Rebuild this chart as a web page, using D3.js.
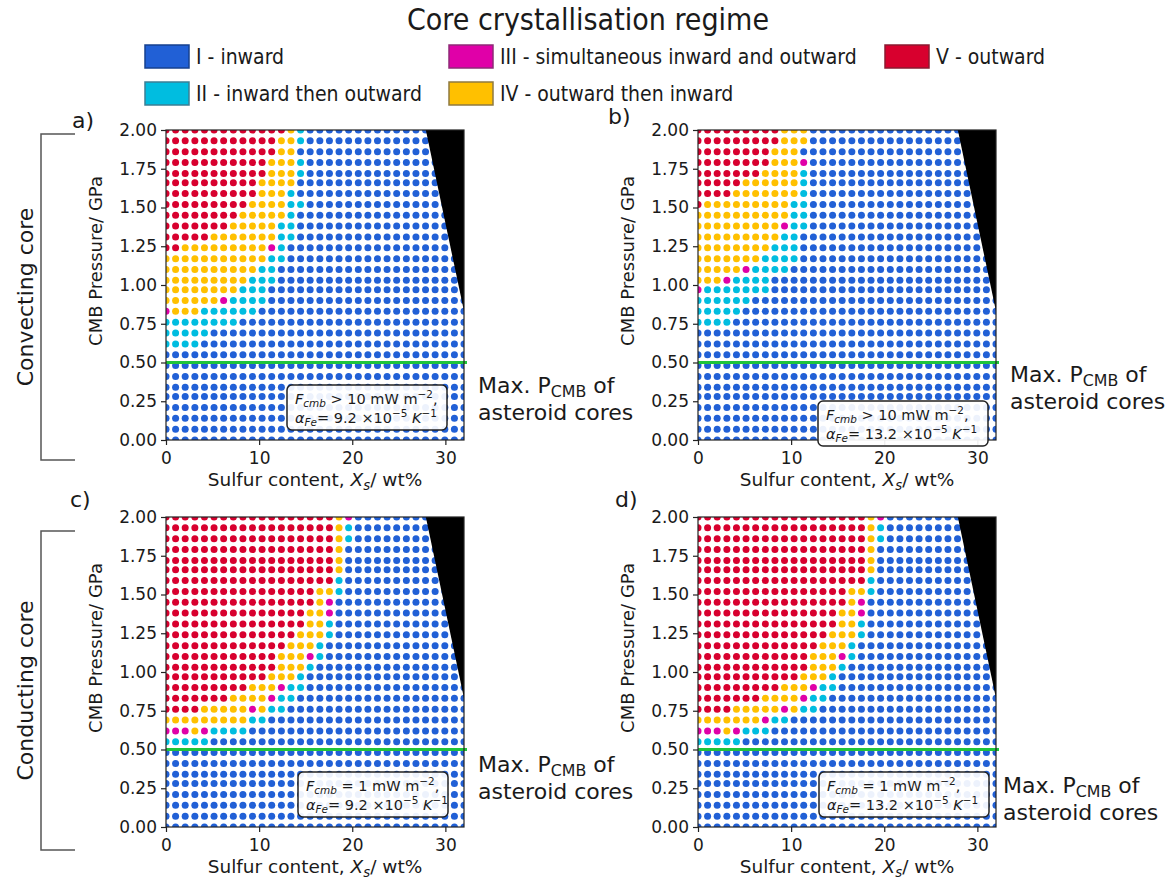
<!DOCTYPE html>
<head>
<meta charset="UTF-8">
<title>Core crystallisation regime</title>
<style>
body { margin: 0; background: #fff; }
svg text { font-family: "DejaVu Sans", sans-serif; fill: #1a1a1a; }
.tick text { font-size: 17px; fill: #1a1a1a; }
.cond { font-family: "DejaVu Sans Condensed", "DejaVu Sans", sans-serif; font-stretch: condensed; }
</style>
</head>
<body>
<script src="https://cdn.jsdelivr.net/npm/d3@7"></script>
<script>

// sulfur content grid, wt% (32 columns)
var sulfur = [0, 1.03, 2.06, 3.10, 4.13, 5.16, 6.19, 7.23, 8.26, 9.29, 10.32, 11.35,
  12.39, 13.42, 14.45, 15.48, 16.52, 17.55, 18.58, 19.61, 20.65, 21.68, 22.71, 23.74,
  24.77, 25.81, 26.84, 27.87, 28.90, 29.94, 30.97, 32];

// CMB pressure grid, GPa (30 rows, top row first)
var pressure = [2.00, 1.93, 1.86, 1.79, 1.72, 1.66, 1.59, 1.52, 1.45, 1.38, 1.31, 1.24,
  1.17, 1.10, 1.03, 0.97, 0.90, 0.83, 0.76, 0.69, 0.62, 0.55, 0.48, 0.41, 0.34, 0.28,
  0.21, 0.14, 0.07, 0.00];

// regime of each dot, one string per pressure row (top first), one letter per column.
// R = V outward, Y = IV outward then inward, M = III simultaneous, C = II inward then outward
// anything not listed is B = I inward
var panelA = [
  "RRRRRRRRRRRRRYC",
  "RRRRRRRRRRRRYYC",
  "RRRRRRRRRRRRYY",
  "RRRRRRRRRRRYYYC",
  "RRRRRRRRRRRYYYC",
  "RRRRRRRRRRYYYY",
  "RRRRRRRRRRYYYC",
  "RRRRRRRRRYYYYCC",
  "RRRRRRRRYYYYYC",
  "RRRRRRRYYYYYCC",
  "RRRRRYYYYYYYCC",
  "RRYYYYYYYYYMC",
  "YYYYYYYYYYYCC",
  "YYYYYYYYYYCC",
  "YYYYYYYYYCCC",
  "YYYYYYYYCCC",
  "YYYYYYMCCCC",
  "MYYYCCCCCC",
  "CCCCCCCC",
  "CCCCC",
  "CCCC"
];
var panelB = [
  "RRRRRRRRRYYY",
  "RRRRRRRRRYYY",
  "RRRRRRRRYYY",
  "RRRRRRRRYYYM",
  "RRRRRRRYYYYC",
  "RRRRRYYYYYYC",
  "RRRRYYYYYYYC",
  "RYYYYYYYYYCC",
  "YYYYYYYYYYCC",
  "YYYYYYYYYMCC",
  "YYYYYYYYYCC",
  "YYYYYYYYCCC",
  "YYYYYYYCCCC",
  "YYYYYMCCCC",
  "YYYMCCCC",
  "MCCCCCCC",
  "CCCCCC",
  "CCCCC",
  "CCCC"
];
var panelC = [
  "RRRRRRRRRRRRRRRRRRYM",
  "RRRRRRRRRRRRRRRRRRYC",
  "RRRRRRRRRRRRRRRRRRYC",
  "RRRRRRRRRRRRRRRRRRY",
  "RRRRRRRRRRRRRRRRRRY",
  "RRRRRRRRRRRRRRRRRRY",
  "RRRRRRRRRRRRRRRRRRC",
  "RRRRRRRRRRRRRRRRYYC",
  "RRRRRRRRRRRRRRRRYM",
  "RRRRRRRRRRRRRRRYYM",
  "RRRRRRRRRRRRRRRYYC",
  "RRRRRRRRRRRRRRYYYC",
  "RRRRRRRRRRRRRYYYC",
  "RRRRRRRRRRRRYYYMC",
  "RRRRRRRRRRRRYYYC",
  "RRRRRRRRRRRYYYC",
  "RRRRRRRRRYYYMCC",
  "RRRRRRRYYYYMCC",
  "RRRRYYYYYMYCC",
  "YYYYYYYYYCC",
  "MMMYMCCCC",
  "CCCCC"
];
var panelD = [
  "RRRRRRRRRRRRRRRRRRYM",
  "RRRRRRRRRRRRRRRRRRYC",
  "RRRRRRRRRRRRRRRRRRYC",
  "RRRRRRRRRRRRRRRRRRY",
  "RRRRRRRRRRRRRRRRRRY",
  "RRRRRRRRRRRRRRRRRRY",
  "RRRRRRRRRRRRRRRRRRC",
  "RRRRRRRRRRRRRRRRYYC",
  "RRRRRRRRRRRRRRRRYM",
  "RRRRRRRRRRRRRRRYYM",
  "RRRRRRRRRRRRRRRYYC",
  "RRRRRRRRRRRRRRYYYC",
  "RRRRRRRRRRRRRYYYC",
  "RRRRRRRRRRRRYYYMC",
  "RRRRRRRRRRRRYYYC",
  "RRRRRRRRRRRYYYC",
  "RRRRRRRRRYYYMCC",
  "RRRRRRRYYYYMCC",
  "RRRRYYYYYMYCC",
  "YYYYYYYMCC",
  "MMMYMCCC",
  "CCCCC"
];

// corner of the grid that is not reached (wt%, GPa)
var excluded = [[27.9, 2.0], [32, 2.0], [32, 0.83]];
// max. CMB pressure of asteroid cores, GPa
var maxAsteroidP = 0.5;

var yTicks = [0, 0.25, 0.5, 0.75, 1.0, 1.25, 1.5, 1.75, 2.0];
var xTicks = [0, 10, 20, 30];

var regimes = [
  { code: "B", label: "I - inward", color: "#2160d6", edge: "#16408f" },
  { code: "C", label: "II - inward then outward", color: "#00bde0", edge: "#3b7f95" },
  { code: "M", label: "III - simultaneous inward and outward", color: "#e000a8", edge: "#8f2a77" },
  { code: "Y", label: "IV - outward then inward", color: "#ffc000", edge: "#8f7a40" },
  { code: "R", label: "V - outward", color: "#d8002e", edge: "#8a1a30" }
];
var colorOf = {};
regimes.forEach(function(r) { colorOf[r.code] = r.color; });

var panels = [
  { tag: "a)", rows: panelA, left: 166, top: 130, tagX: 72, tagY: 128, flux: " > 10", alpha: "9.2",
    box: [287, 385, 160], noteX: 478, noteY: 393 },
  { tag: "b)", rows: panelB, left: 698, top: 130, tagX: 608, tagY: 124, flux: " > 10", alpha: "13.2",
    box: [818, 401, 170], noteX: 1010, noteY: 382 },
  { tag: "c)", rows: panelC, left: 166, top: 517, tagX: 70, tagY: 507, flux: " = 1", alpha: "9.2",
    box: [298, 772, 150], noteX: 478, noteY: 772 },
  { tag: "d)", rows: panelD, left: 698, top: 517, tagX: 615, tagY: 507, flux: " = 1", alpha: "13.2",
    box: [819, 772, 170], noteX: 1003, noteY: 793 }
];

var width = 298, height = 310;

var svg = d3.select("body").append("svg")
    .attr("width", 1174)
    .attr("height", 879);

var x = d3.scaleLinear().domain([0, 32]).range([0, width]);
var y = d3.scaleLinear().domain([0, 2]).range([height, 0]);

// text with sub / superscripts
function rich(textSel, parts, size) {
  var shift = 0;
  parts.forEach(function(p) {
    var target = p.sub ? size * 0.2 : (p.sup ? -size * 0.4 : 0);
    textSel.append("tspan")
      .attr("dy", target - shift)
      .style("font-size", (p.sub || p.sup) ? (size * 0.72) + "px" : size + "px")
      .style("font-style", p.i ? "italic" : "normal")
      .text(p.t);
    shift = target;
  });
}

// ****************** title and legend ***************************
svg.append("text")
    .attr("class", "cond")
    .attr("x", 588).attr("y", 30)
    .attr("text-anchor", "middle")
    .style("font-size", "30px")
    .text("Core crystallisation regime");

var legendPos = { B: [145, 45], C: [145, 82], M: [449, 45], Y: [449, 82], R: [885, 45] };
var legend = svg.selectAll("g.legend")
    .data(regimes)
  .enter().append("g")
    .attr("class", "legend")
    .attr("transform", function(d) { return "translate(" + legendPos[d.code] + ")"; });
legend.append("rect")
    .attr("width", 44).attr("height", 23)
    .attr("fill", function(d) { return d.color; })
    .attr("stroke", function(d) { return d.edge; })
    .attr("stroke-width", 1.5);
legend.append("text")
    .attr("class", "cond")
    .attr("x", 51).attr("y", 19)
    .style("font-size", "21px")
    .text(function(d) { return d.label; });

// ****************** brackets on the left ***************************
[{ y0: 134, y1: 460, label: "Convecting core" }, { y0: 531, y1: 850, label: "Conducting core" }]
  .forEach(function(b) {
    svg.append("path")
      .attr("d", "M75," + b.y0 + "H41V" + b.y1 + "H75")
      .attr("fill", "none")
      .attr("stroke", "#555")
      .attr("stroke-width", 1.5);
    svg.append("text")
      .attr("transform", "translate(33," + (b.y0 + b.y1) / 2 + ") rotate(-90)")
      .attr("text-anchor", "middle")
      .style("font-size", "22px")
      .text(b.label);
  });

// ****************** panels ***************************
panels.forEach(function(pn, idx) {
  var g = svg.append("g").attr("transform", "translate(" + pn.left + "," + pn.top + ")");

  g.append("clipPath").attr("id", "clip" + idx)
    .append("rect").attr("width", width).attr("height", height);

  // one dot per grid point
  var cells = [];
  pressure.forEach(function(p, k) {
    var row = pn.rows[k] || "";
    sulfur.forEach(function(s, j) {
      cells.push({ s: s, p: p, code: row[j] || "B" });
    });
  });

  var plot = g.append("g").attr("clip-path", "url(#clip" + idx + ")");
  plot.selectAll("circle")
      .data(cells)
    .enter().append("circle")
      .attr("cx", function(d) { return x(d.s); })
      .attr("cy", function(d) { return y(d.p); })
      .attr("r", 3.5)
      .attr("fill", function(d) { return colorOf[d.code]; });

  plot.append("path")
      .attr("d", d3.line().x(function(d) { return x(d[0]); }).y(function(d) { return y(d[1]); })(excluded) + "Z")
      .attr("fill", "#000");

  // green line, max pressure of asteroid cores
  g.append("line")
      .attr("x1", x(0)).attr("x2", x(32) + 3)
      .attr("y1", y(maxAsteroidP)).attr("y2", y(maxAsteroidP))
      .attr("stroke", "#1fc43a")
      .attr("stroke-width", 3);

  // frame
  g.append("rect")
      .attr("width", width).attr("height", height)
      .attr("fill", "none")
      .attr("stroke", "#222")
      .attr("stroke-width", 1.2);

  var yAxis = g.append("g")
      .call(d3.axisLeft(y).tickValues(yTicks).tickFormat(d3.format(".2f")).tickSize(5).tickPadding(4));
  var xAxis = g.append("g")
      .attr("transform", "translate(0," + height + ")")
      .call(d3.axisBottom(x).tickValues(xTicks).tickSize(5).tickPadding(7));
  [yAxis, xAxis].forEach(function(a) {
    a.select(".domain").remove();
    a.selectAll(".tick line").attr("stroke", "#222").attr("stroke-width", 1.2);
    a.selectAll(".tick text").style("font-family", "DejaVu Sans, sans-serif");
  });

  // axis labels
  g.append("text")
      .attr("transform", "translate(-64," + (height / 2 - 24) + ") rotate(-90)")
      .attr("text-anchor", "middle")
      .style("font-size", "18px")
      .text("CMB Pressure/ GPa");
  var xl = g.append("text")
      .attr("x", width / 2).attr("y", height + 46)
      .attr("text-anchor", "middle");
  rich(xl, [{ t: "Sulfur content, " }, { t: "X", i: true }, { t: "s", i: true, sub: true }, { t: "/ wt%" }], 18.5);

  // panel tag
  svg.append("text")
      .attr("x", pn.tagX).attr("y", pn.tagY)
      .style("font-size", "22px")
      .text(pn.tag);

  // parameter box
  var bx = svg.append("g").attr("transform", "translate(" + pn.box[0] + "," + pn.box[1] + ")");
  bx.append("rect")
      .attr("width", pn.box[2]).attr("height", 45)
      .attr("rx", 5)
      .attr("fill", "rgba(255,255,255,0.92)")
      .attr("stroke", "#222")
      .attr("stroke-width", 1.5);
  var t1 = bx.append("text").attr("x", 8).attr("y", 19);
  rich(t1, [{ t: "F", i: true }, { t: "cmb", i: true, sub: true }, { t: pn.flux + " mW m" }, { t: "\u22122", sup: true }, { t: "," }], 14.5);
  var t2 = bx.append("text").attr("x", 8).attr("y", 38);
  rich(t2, [{ t: "\u03b1", i: true }, { t: "Fe", i: true, sub: true }, { t: "= " + pn.alpha + " \u00d710" }, { t: "\u22125", sup: true },
    { t: " " }, { t: "K", i: true }, { t: "\u22121", sup: true }], 14.5);

  // note beside the panel
  var n1 = svg.append("text").attr("x", pn.noteX).attr("y", pn.noteY);
  rich(n1, [{ t: "Max. P" }, { t: "CMB", sub: true }, { t: " of" }], 22);
  svg.append("text").attr("x", pn.noteX).attr("y", pn.noteY + 27)
      .style("font-size", "22px")
      .text("asteroid cores");
});

</script>
</body>
